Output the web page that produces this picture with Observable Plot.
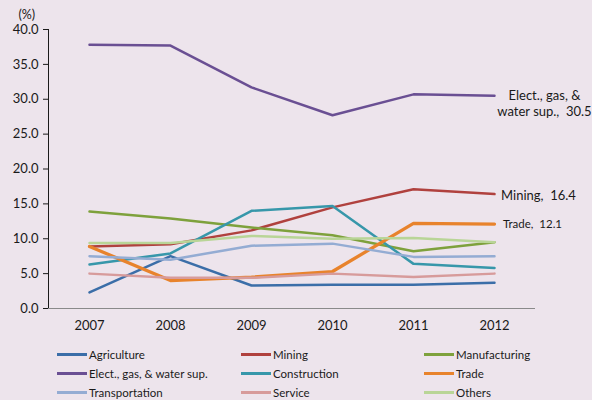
<!DOCTYPE html>
<html><head><meta charset="utf-8">
<script src="https://cdn.jsdelivr.net/npm/d3@7"></script>
<script src="https://cdn.jsdelivr.net/npm/@observablehq/plot@0.6"></script>
<style>
html,body{margin:0;padding:0;background:#ede4ec;}
#wrap{width:592px;height:400px;background:#ede4ec;font-family:Lato,"Open Sans",sans-serif;}
#legend{display:grid;grid-template-columns:184px 183px 160px;margin-left:57px;row-gap:3px;margin-top:10px;font-size:11.5px;color:#1a1a1a;}
.li{display:flex;align-items:center;height:16px;}
.sw{width:30px;height:3px;margin-right:2px;}
</style></head><body><div id="wrap"></div>
<script>
const years = ["2007","2008","2009","2010","2011","2012"];
const seriesNames = ["Agriculture","Mining","Manufacturing","Elect., gas, & water sup.","Construction","Trade","Transportation","Service","Others"];
const agriculture = [2.3, 7.5, 3.3, 3.4, 3.4, 3.7];
const mining = [8.9, 9.2, 11.2, 14.5, 17.1, 16.4];
const manufacturing = [13.9, 12.9, 11.6, 10.5, 8.2, 9.5];
const elect = [37.8, 37.7, 31.7, 27.7, 30.7, 30.5];
const construction = [6.3, 7.9, 14.0, 14.7, 6.4, 5.8];
const trade = [8.9, 4.0, 4.5, 5.3, 12.2, 12.1];
const transportation = [7.5, 7.0, 9.0, 9.3, 7.4, 7.5];
const service = [5.0, 4.4, 4.4, 5.0, 4.5, 5.0];
const others = [9.4, 9.4, 10.4, 10.0, 10.1, 9.5];
const colors = ["#3b6ea8","#b0413e","#7ea13c","#6a4f93","#3797aa","#e8832c","#94acd3","#d79b9b","#b9d597"];
const widths = [2.5,2.5,2.5,2.5,2.5,3.3,2.5,2.5,2.5];
const allValues = [agriculture, mining, manufacturing, elect, construction, trade, transportation, service, others];
const yTicks = [0,5,10,15,20,25,30,35,40];
const unitLabel = "(%)";

const data = [];
seriesNames.forEach((s,i)=>years.forEach((y,j)=>data.push({series:s, year:y, value:allValues[i][j]})));

const labelled = [
  {series:"Elect., gas, & water sup.", text:"Elect., gas, &\nwater sup.,  " + elect[5].toFixed(1), year:"2012", value:elect[5], dx:50, dy:7, size:13},
  {series:"Mining", text:"Mining,  " + mining[5].toFixed(1), year:"2012", value:mining[5], dx:44, dy:1, size:13},
  {series:"Trade", text:"Trade,  " + trade[5].toFixed(1), year:"2012", value:trade[5], dx:38, dy:-1, size:11.5}
];

const marks = [
  Plot.ruleY([0], {stroke:"#8a8a8a", strokeWidth:1.2}),
  Plot.text([unitLabel], {frameAnchor:"top-left", lineAnchor:"middle", dx:-30, dy:-15, fontSize:12.5, fill:"#1a1a1a"})
];
seriesNames.forEach((s,i)=>{
  marks.push(Plot.lineY(data.filter(d=>d.series===s), {x:"year", y:"value", stroke:colors[i], strokeWidth:widths[i]}));
});
labelled.forEach(l=>{
  marks.push(Plot.text([l], {x:"year", y:"value", text:"text", dx:l.dx, dy:l.dy, fontSize:l.size, fill:"#1a1a1a", lineHeight:1.25}));
});

const chart = Plot.plot({
  width:592, height:336,
  marginLeft:48, marginRight:57, marginTop:29, marginBottom:28,
  style:{background:"transparent", fontFamily:"Lato, 'Open Sans', sans-serif", fontSize:"13px", color:"#1a1a1a"},
  x:{type:"point", domain:years, padding:0.5, tickSize:0, tickPadding:12, label:null},
  y:{domain:[0,40], ticks:yTicks, tickFormat:d3.format(".1f"), tickSize:5, tickPadding:5, line:true, label:null},
  marks
});
document.getElementById("wrap").appendChild(chart);

const legend = document.createElement("div");
legend.id = "legend";
seriesNames.forEach((s,i)=>{
  const li = document.createElement("div"); li.className="li";
  const sw = document.createElement("div"); sw.className="sw"; sw.style.background=colors[i];
  const t = document.createElement("span"); t.textContent=s;
  li.appendChild(sw); li.appendChild(t); legend.appendChild(li);
});
document.getElementById("wrap").appendChild(legend);
</script></body></html>
